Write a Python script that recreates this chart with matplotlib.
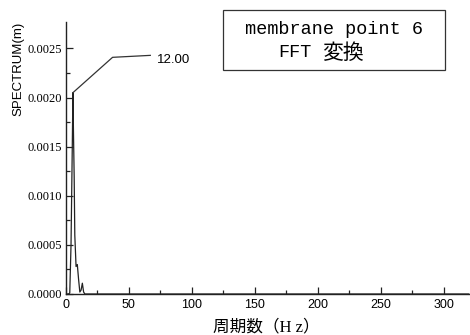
import numpy as np
import matplotlib.pyplot as plt
from matplotlib.patches import Rectangle

# FFT spectrum of membrane point 6
freq = [0, 1, 2, 3, 4, 5, 5.5, 6, 6.5, 7, 8, 9, 10, 11, 12, 13, 14, 15, 320]
spec = [0, 0, 0, 0.00001, 0.0005, 0.0015, 0.00205, 0.0016, 0.0012, 0.0006,
        0.00028, 0.0003, 0.00015, 0.00002, 0.00004, 0.00011, 0.00002, 0, 0]

peak_x, peak_y = 5.5, 0.00205
peak_label = '12.00'

xticks = [0, 50, 100, 150, 200, 250, 300]
yticks = [0.0, 0.0005, 0.0010, 0.0015, 0.0020, 0.0025]

fig = plt.figure(figsize=(4.7, 3.35), dpi=100)
ax = fig.add_axes([0.1404, 0.1224, 0.8596, 0.812])
ax.plot(freq, spec, color='#222222', lw=0.9)

# leader line to the peak label
ax.plot([peak_x, 37, 67], [peak_y, 0.00241, 0.00243], color='#333333', lw=0.9)
ax.text(72, 0.00238, peak_label, fontsize=9.5, family='Liberation Sans',
        va='center', ha='left')

ax.set_xlim(0, 321)
ax.set_ylim(0, 0.00277)
ax.set_xticks(xticks)
ax.set_xticks(np.arange(25, 321, 50), minor=True)
ax.set_yticks(yticks)
ax.set_yticks(np.arange(0.00025, 0.0027, 0.0005), minor=True)
ax.set_yticklabels(['%.4f' % v for v in yticks], family='Liberation Serif',
                   fontsize=9)
ax.set_xticklabels([str(v) for v in xticks], family='Liberation Sans',
                   fontsize=9)
ax.tick_params(which='both', direction='in', width=0.9, color='#222222')
ax.tick_params(axis='y', pad=3)
ax.tick_params(which='major', length=5)
ax.tick_params(which='minor', length=3)
for s in ['top', 'right']:
    ax.spines[s].set_visible(False)
for s in ['left', 'bottom']:
    ax.spines[s].set_linewidth(1.0)
    ax.spines[s].set_color('#222222')

ax.set_ylabel('SPECTRUM(m)', family='Liberation Sans', fontsize=9.5,
              loc='top', labelpad=2)
fig.text(0.566, 0.024, '周期数（H z）', family=['Liberation Serif', 'Noto Sans CJK JP'],
         fontsize=12, ha='center', va='center')

# title box
fig.patches.append(Rectangle((0.4745, 0.791), 0.4723, 0.179,
                             transform=fig.transFigure, fc='white',
                             ec='#333333', lw=0.9))
fig.text(0.5213, 0.9134, 'membrane point 6', family='Liberation Mono',
         fontsize=13.3, ha='left', va='center')
fig.text(0.5915, 0.8418, 'FFT', family='Liberation Mono',
         fontsize=13.3, ha='left', va='center')
fig.text(0.685, 0.8418, '変換', family='Noto Sans CJK JP',
         fontsize=15, ha='left', va='center')

fig.savefig('out.png', dpi=100)
